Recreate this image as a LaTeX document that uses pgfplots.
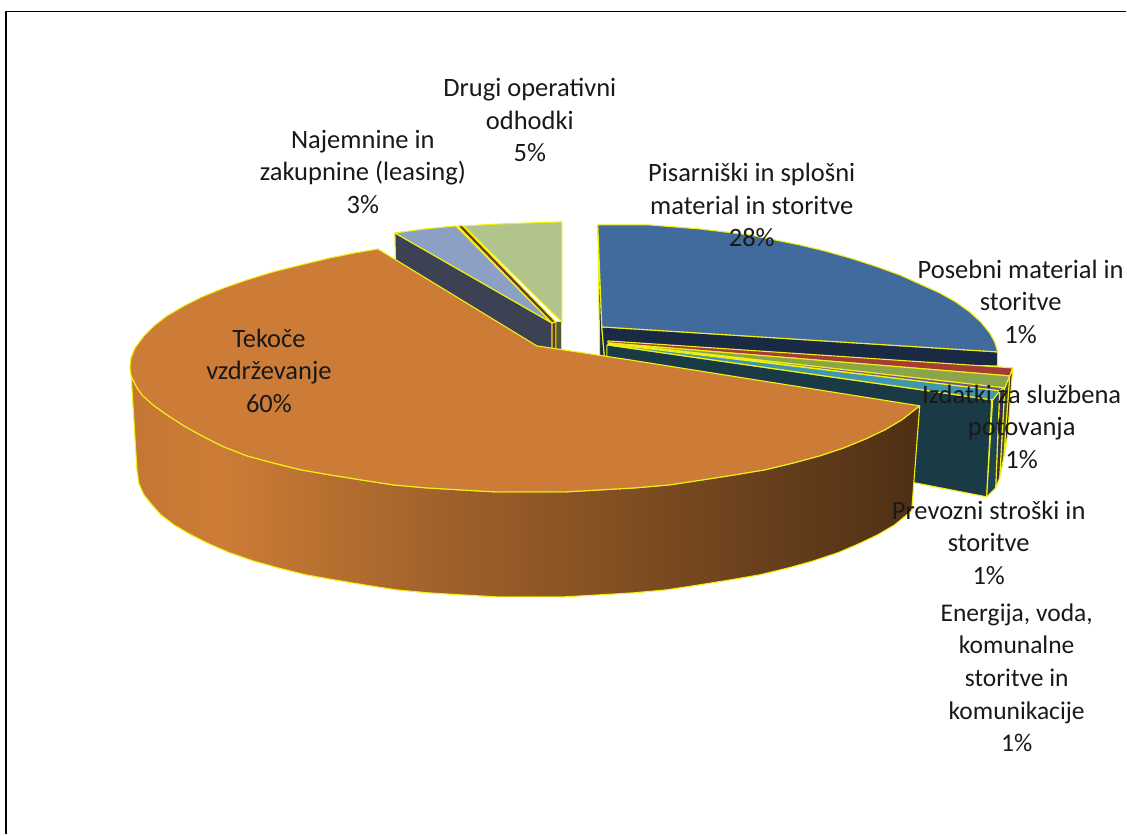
\documentclass[border=0pt]{standalone}
\usepackage{pgfplots}
\pgfplotsset{compat=1.18}
\usepackage{fontspec}
\setmainfont{Carlito}
\definecolor{ye}{RGB}{240,240,20}
\definecolor{orangeT}{RGB}{204,124,54}
\definecolor{blueT}{RGB}{65,106,157}
\definecolor{navy}{RGB}{26,42,68}
\definecolor{tealD}{RGB}{26,58,70}
\definecolor{redT}{RGB}{165,60,55}
\definecolor{oliveT}{RGB}{140,165,75}
\definecolor{purpT}{RGB}{112,85,145}
\definecolor{tealT}{RGB}{65,150,175}
\definecolor{grayT}{RGB}{140,160,196}
\definecolor{grayD}{RGB}{60,66,84}
\definecolor{greenT}{RGB}{176,196,140}
\definecolor{greenD}{RGB}{80,90,55}
\definecolor{brownS}{RGB}{110,55,35}
\definecolor{txt}{RGB}{25,25,25}
\pgfdeclarehorizontalshading{wall}{100bp}{
 color(0bp)=(orangeT!96!black);
 color(25bp)=(orangeT!96!black);
 color(31bp)=(orangeT!100);
 color(45bp)=(orangeT!78!black);
 color(60bp)=(orangeT!58!black);
 color(75bp)=(orangeT!38!black);
 color(100bp)=(orangeT!38!black)}
\begin{document}
\begin{tikzpicture}
\begin{axis}[
  width=1127pt,height=835pt,scale only axis,
  xmin=0,xmax=1127,ymin=0,ymax=835,y dir=reverse,
  axis lines=none,clip=false,
  every axis plot/.append style={no marks,line width=1.1pt,line join=round,draw=ye},
  nodes={font=\fontsize{26.5}{32.7}\selectfont,text=txt,align=center}
]
% page extent
\addplot[draw=none] coordinates {(0,0) (1127,835)};
% frame
\addplot[draw=black,line width=1.7pt] coordinates {(6,834.5) (6,11.5) (1126.5,11.5)};
% blue slice
\addplot[fill=navy] coordinates {(598,225) (602,327) (605,362) (600,362) (598,225)};
\addplot[fill=navy] coordinates {(602,327) (998,352) (998,366) (605,362) (602,327)};
\addplot[fill=blueT] coordinates {(598,225) (625,225) (650,225) (675,227) (700,229) (725,232) (750,235) (775,240) (800,245) (825,251) (850,258) (875,266) (900,275) (920,284) (940,293) (956,302) (970,312) (981,322) (990,333) (995,342) (998,352) (602,327) (598,225)};
% thin right slices: wall
\addplot[fill=tealD] coordinates {(607,345) (992,400) (987,497) (900,480) (607,375) (607,345)};
\addplot[fill=redT!45!black] coordinates {(1010,376) (1013,368) (1008,435) (1004,458) (1010,376)};
\addplot[fill=oliveT!50!black] coordinates {(1005,388) (1010,376) (1004,458) (1000,478) (1005,388)};
\addplot[fill=purpT!50!black] coordinates {(1000,391) (1005,388) (1000,478) (996,488) (1000,391)};
\addplot[fill=tealT!45!black] coordinates {(993,400) (1000,391) (996,488) (987,497) (993,400)};
% thin right slices: tops
\addplot[fill=redT] coordinates {(608,341) (1013,368) (1010,376) (608,343) (608,341)};
\addplot[fill=oliveT] coordinates {(608,343) (1010,376) (1005,388) (608,343)};
\addplot[fill=purpT] coordinates {(608,343) (1005,388) (1000,391) (608,343)};
\addplot[fill=tealT] coordinates {(608,344) (1000,391) (993,400) (608,345) (608,344)};
% upper small slices
\addplot[fill=greenD] coordinates {(555,322) (562,322) (562,358) (555,358) (555,322)};
\addplot[fill=greenT] coordinates {(464,226) (500,224) (530,223) (562,222) (562,322) (464,226)};
\addplot[fill=brownS] coordinates {(552,323) (556,322) (556,358) (552,358) (552,323)};
\addplot[fill=brownS] coordinates {(458,226) (463,226) (556,322) (552,323) (458,226)};
\addplot[fill=grayD] coordinates {(395,233) (552,323) (552,358) (396,275) (395,233)};
\addplot[fill=grayT] coordinates {(395,233) (425,229) (456,226) (552,323) (395,233)};
% orange slice
\addplot[shading=wall] coordinates {(131,372) (133,380) (137,388) (143,396) (153,405) (167,415) (184,426) (202,436) (224,447) (247,456) (273,463) (301,470) (330,475) (361,480) (393,485) (426,488) (460,490) (495,492) (530,492) (566,492) (601,490) (636,488) (670,485) (703,480) (735,475) (765,470) (794,463) (820,456) (844,448) (866,439) (885,430) (902,420) (920,406) (912,511) (895,525) (878,535) (859,544) (838,553) (814,561) (789,568) (760,575) (731,580) (700,585) (667,590) (634,593) (600,595) (565,597) (530,597) (496,597) (461,595) (428,593) (396,590) (364,585) (334,580) (306,575) (278,568) (253,561) (230,553) (209,544) (191,535) (174,525) (161,515) (152,505) (144,495) (139,484) (137,470) (131,372)};
\addplot[fill=orangeT] coordinates {(378,249) (355,253) (330,258) (301,265) (273,272) (247,280) (224,288) (202,297) (184,306) (167,316) (154,326) (144,336) (135,348) (131,358) (130,368) (131,375) (133,380) (137,388) (143,396) (153,405) (167,415) (184,426) (202,436) (224,447) (247,456) (273,463) (301,470) (330,475) (361,480) (393,485) (426,488) (460,490) (495,492) (530,492) (566,492) (601,490) (636,488) (670,485) (703,480) (735,475) (765,470) (794,463) (820,456) (844,448) (866,439) (885,430) (902,420) (920,406) (630,360) (537,346) (378,249)};
% labels
\node at (axis cs:530,120) {Drugi operativni\\odhodki\\5\%};
\node at (axis cs:363,172) {Najemnine in\\zakupnine (leasing)\\3\%};
\node at (axis cs:752,205) {Pisarniški in splošni\\material in storitve\\28\%};
\node at (axis cs:1021,302) {Posebni material in\\storitve\\1\%};
\node at (axis cs:1022,427) {Izdatki za službena\\potovanja\\1\%};
\node at (axis cs:989,543) {Prevozni stroški in\\storitve\\1\%};
\node[font=\fontsize{25.5}{32.7}\selectfont] at (axis cs:1017,678) {Energija, voda,\\komunalne\\storitve in\\komunikacije\\1\%};
\node at (axis cs:269,371) {Tekoče\\vzdrževanje\\60\%};
\end{axis}
\end{tikzpicture}
\end{document}
